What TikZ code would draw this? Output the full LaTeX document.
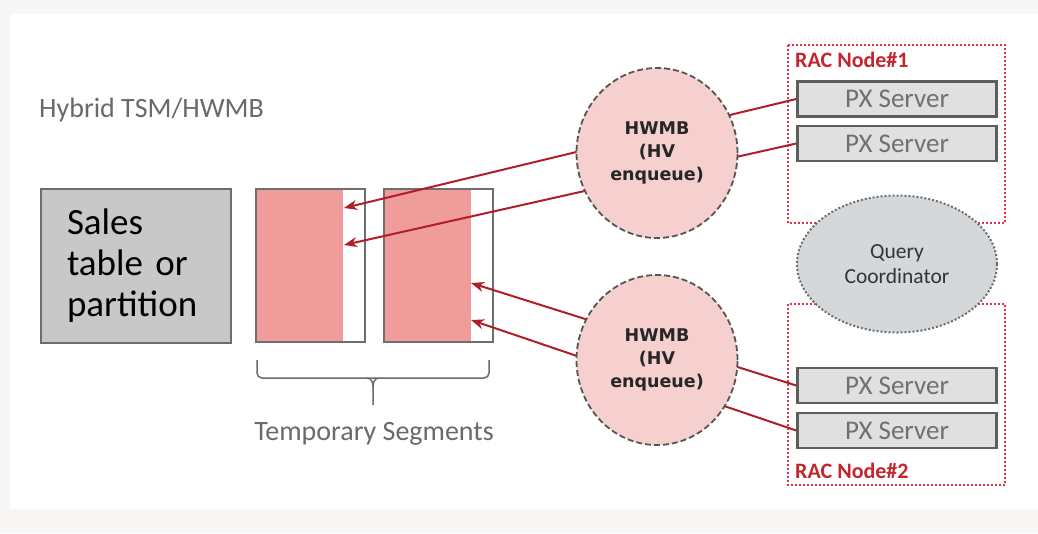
\documentclass[tikz,border=0pt]{standalone}
\usepackage{fontspec}
\setmainfont{Carlito}
\newfontfamily\circfont{DejaVu Sans}
\usetikzlibrary{shapes.geometric,arrows.meta}
\definecolor{outerbg}{HTML}{F8F7F5}
\definecolor{salesfill}{HTML}{C8C8C8}
\definecolor{boxborder}{HTML}{6E6E6E}
\definecolor{segpink}{HTML}{F09C9A}
\definecolor{hwfill}{HTML}{F6CFCF}
\definecolor{circborder}{HTML}{555555}
\definecolor{pxfill}{HTML}{E0E0E0}
\definecolor{pxborder}{HTML}{5E5E5E}
\definecolor{pxtext}{HTML}{707070}
\definecolor{racred}{HTML}{E0304A}
\definecolor{raclabel}{HTML}{C4262E}
\definecolor{arrred}{HTML}{B01E28}
\definecolor{qcfill}{HTML}{D5D8DA}
\definecolor{greytext}{HTML}{6A6A6A}
\tikzset{
  salesbox/.style={draw=boxborder,fill=salesfill,line width=2pt,minimum width=190pt,minimum height=154pt,inner sep=0pt,text width=138pt,align=left,font=\fontsize{37}{41}\selectfont,text=black},
  segbox/.style={draw=boxborder,line width=2pt,minimum width=109pt,minimum height=153pt,inner sep=0pt},
  hwnode/.style={ellipse,draw=circborder,dashed,dash pattern=on 6pt off 3pt,fill=hwfill,line width=1.8pt,minimum width=161pt,minimum height=170pt,inner sep=0pt,align=center,font=\circfont\bfseries\fontsize{17.5}{23}\selectfont,text=black!85},
  pxbox/.style={draw=pxborder,fill=pxfill,line width=2.5pt,minimum width=199pt,minimum height=35pt,inner sep=0pt,font=\fontsize{27}{30}\selectfont,text=pxtext},
  racbox/.style={draw=racred,dotted,line width=2pt},
  raclab/.style={anchor=west,inner sep=0pt,text=raclabel,font=\bfseries\fontsize{22}{24}\selectfont},
  qcnode/.style={ellipse,draw=boxborder,dotted,line width=2pt,fill=qcfill,minimum width=200pt,minimum height=137pt,inner sep=0pt,align=center,font=\fontsize{21.5}{25}\selectfont,text=black!80},
  arr/.style={draw=arrred,line width=2pt,-{Stealth[length=13pt,width=10pt,inset=4pt]}},
  greylabel/.style={inner sep=0pt,text=greytext,font=\fontsize{28}{32}\selectfont}
}
\begin{document}
\begin{tikzpicture}[x=1pt,y=-1pt]
\useasboundingbox (0,0) rectangle (1038,533);
\fill[outerbg] (0,0) rectangle (1038,533);
\fill[white] (10,14) rectangle (1038,509);

\node[greylabel,anchor=west] (title) at (39,110) {Hybrid TSM/HWMB};

\node[salesbox] (sales) at (136,266) {Sales\\table or\\partition};

% temporary segments
\node[segbox,fill=white] (seg1) at (310.5,265.5) {};
\fill[segpink] (257,190) rectangle (343,341);
\node[segbox] (seg1b) at (310.5,265.5) {};
\node[segbox,fill=white] (seg2) at (438,265.5) {};
\fill[segpink] (385,190) rectangle (471,341);
\node[segbox] (seg2b) at (438,265.5) {};

\coordinate (t1) at (344,208);
\coordinate (t2) at (344,245);
\coordinate (t3) at (471,283);
\coordinate (t4) at (471,320);

% brace
\draw[greytext,line width=1.5pt,rounded corners=5pt] (257,360) -- (257,378) -- (489,378) -- (489,360);
\draw[greytext,line width=1.5pt] (367,378) to[out=0,in=90] (373,386) -- (373,405);
\draw[greytext,line width=1.5pt] (379,378) to[out=180,in=90] (373,386);
\node[greylabel] (temp) at (374,434) {Temporary Segments};

% RAC nodes
\draw[racbox] (788,45) rectangle (1005,223);
\node[raclab] (rac1) at (795,60) {RAC Node\#1};
\draw[racbox] (788,304) rectangle (1005,485);
\node[raclab] (rac2) at (795,471) {RAC Node\#2};

\node[pxbox] (px1) at (897,99) {PX Server};
\node[pxbox] (px2) at (897,143.5) {PX Server};
\node[pxbox] (px3) at (897,385.5) {PX Server};
\node[pxbox] (px4) at (897,430.5) {PX Server};

\node[qcnode] (qc) at (897,264) {Query\\Coordinator};

% arrows
\draw[arr] (px1.west) -- (t1);
\draw[arr] (px2.west) -- (t2);
\draw[arr] (px3.west) -- (t3);
\draw[arr] (px4.west) -- (t4);

% HWMB circles
\node[hwnode] (hw1) at (657,153) {HWMB\\(HV\\enqueue)};
\node[hwnode] (hw2) at (657,360) {HWMB\\(HV\\enqueue)};
\end{tikzpicture}
\end{document}
